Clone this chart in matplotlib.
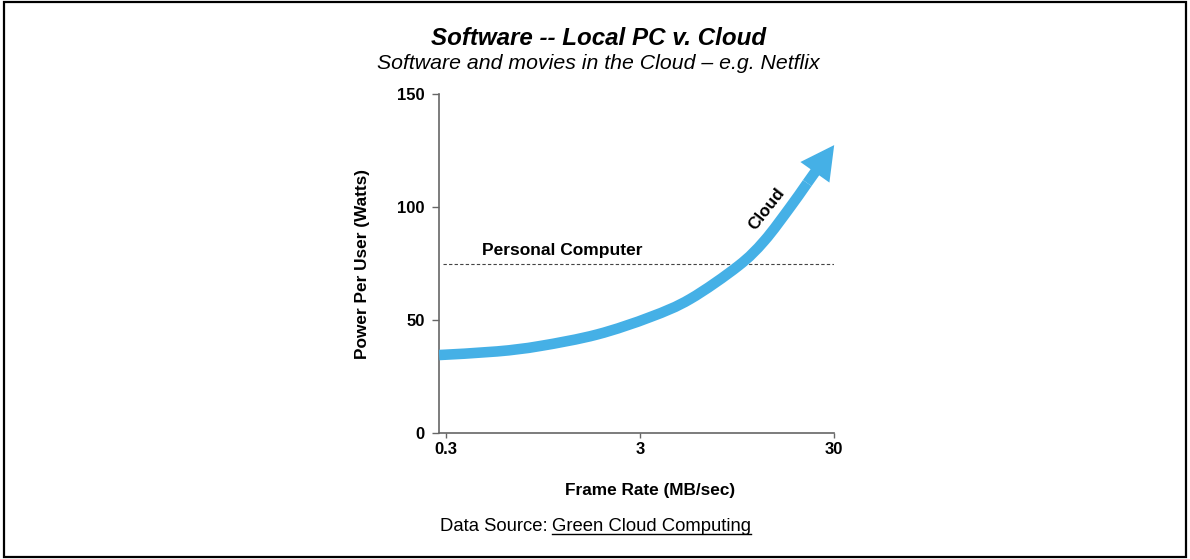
import matplotlib
matplotlib.use("Agg")
import matplotlib.pyplot as plt
from matplotlib.path import Path
from matplotlib.patches import PathPatch
import numpy as np

plt.rcParams['font.family'] = ['Liberation Sans', 'DejaVu Sans']

# Data
frame_rate = [0.277, 0.551, 0.918, 1.805, 3.385, 5.44, 9.61, 13.09, 17.82, 21.8]
power = [34.5, 36.1, 38.5, 43.6, 51.3, 59.3, 73.9, 85.0, 100.0, 110.6]
arrow_tip = (30.0, 127.4)
pc_power = 75
x_ticks = [0.3, 3, 30]
x_tick_labels = ["0.3", "3", "30"]
y_ticks = [0, 50, 100, 150]

title = "Software -- Local PC v. Cloud"
subtitle = "Software and movies in the Cloud \u2013 e.g. Netflix"
blue = "#45b0e6"
spine_c = "#666666"
curve_lw = 7.6

fig = plt.figure(figsize=(11.9, 5.59), dpi=100)
fig.patches.append(plt.Rectangle((0.003, 0.003), 0.994, 0.993, transform=fig.transFigure,
                                 fill=False, edgecolor='black', linewidth=1.6))

ax = fig.add_axes([0.369, 0.2254, 0.332, 0.6064])
ax.set_xscale('log')
ax.set_xlim(0.277, 30)
ax.set_ylim(0, 150)

# Smooth curve through the read points (Catmull-Rom -> cubic Bezier in log-x space)
lx = np.log10(np.array(frame_rate + [arrow_tip[0]]))
py = np.array(power + [arrow_tip[1]])
pts = np.column_stack([lx, py])
n = len(frame_rate)
verts = [pts[0]]
codes = [Path.MOVETO]
for i in range(n - 1):
    p0 = pts[max(i - 1, 0)]
    p1 = pts[i]
    p2 = pts[i + 1]
    p3 = pts[min(i + 2, len(pts) - 1)]
    c1 = p1 + (p2 - p0) / 6.0
    c2 = p2 - (p3 - p1) / 6.0
    verts += [c1, c2, p2]
    codes += [Path.CURVE4] * 3
verts = np.array(verts)
verts[:, 0] = 10 ** verts[:, 0]
ax.add_patch(PathPatch(Path(verts, codes), fill=False, edgecolor=blue, lw=curve_lw,
                       capstyle='butt', joinstyle='round', zorder=3))

# Straight shaft from the last curve point up to under the arrow head
p_last = ax.transData.transform((frame_rate[-1], power[-1]))
p_tip = ax.transData.transform(arrow_tip)
u = (p_tip - p_last) / np.hypot(*(p_tip - p_last))
shaft_end = ax.transData.inverted().transform(p_tip - 18 * u)
ax.plot([frame_rate[-1], shaft_end[0]], [power[-1], shaft_end[1]], color=blue,
        lw=curve_lw, solid_capstyle='butt', zorder=3)

ax.annotate('', xy=arrow_tip, xytext=(frame_rate[-1], power[-1]),
            arrowprops=dict(arrowstyle='-|>,head_length=1.2,head_width=0.64',
                            mutation_scale=20, color=blue, lw=0,
                            shrinkA=0, shrinkB=0), zorder=4, annotation_clip=False)

ax.axhline(pc_power, xmin=0.01, xmax=1, color='#444444', lw=0.8, ls=(0, (3, 2)), zorder=2)
ax.text(0.46, pc_power + 2.6, "Personal Computer", fontsize=12.5, fontweight='bold',
        ha='left', va='bottom')
ax.text(13.4, 99, "Cloud", fontsize=12.3, fontweight='bold', rotation=52,
        ha='center', va='center')

for s in ['top', 'right']:
    ax.spines[s].set_visible(False)
for s in ['left', 'bottom']:
    ax.spines[s].set_color(spine_c)
    ax.spines[s].set_linewidth(1.2)

ax.set_xticks(x_ticks)
ax.set_xticklabels(x_tick_labels)
ax.xaxis.set_minor_locator(matplotlib.ticker.NullLocator())
ax.set_yticks(y_ticks)
ax.tick_params(axis='both', colors=spine_c, labelcolor='black', width=1, labelsize=12)
ax.tick_params(axis='y', length=5, pad=5.5)
ax.tick_params(axis='x', length=3.6, pad=3)
for lab in ax.get_xticklabels() + ax.get_yticklabels():
    lab.set_fontweight('bold')

ax.set_xlabel("Frame Rate (MB/sec)", fontsize=12.4, fontweight='bold')
ax.xaxis.set_label_coords(0.533, -0.147)
ax.set_ylabel("Power Per User (Watts)", fontsize=12.4, fontweight='bold')
ax.yaxis.set_label_coords(-0.175, 0.5)

fig.text(0.503, 0.932, title, fontsize=17.4, fontweight='bold', style='italic',
         ha='center', va='center')
fig.text(0.503, 0.887, subtitle, fontsize=15.3, style='italic', ha='center', va='center')

t1 = fig.text(0.3695, 0.059, "Data Source: ", fontsize=13.3, ha='left', va='center')
fig.canvas.draw()
r = fig.canvas.get_renderer()
bb = t1.get_window_extent(r)
x2 = bb.x1 / fig.bbox.width
t2 = fig.text(x2, 0.059, "Green Cloud Computing", fontsize=13.3, ha='left', va='center')
bb2 = t2.get_window_extent(r)
fig.add_artist(matplotlib.lines.Line2D([bb2.x0 / fig.bbox.width, bb2.x1 / fig.bbox.width],
                                       [(bb2.y0 + 1) / fig.bbox.height] * 2,
                                       transform=fig.transFigure, color='black', lw=1))

fig.savefig("out.png", dpi=100)
